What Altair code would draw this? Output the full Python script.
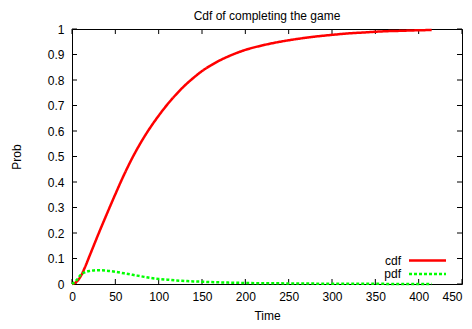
import altair as alt
import pandas as pd

# ---- data ----
time = [0, 5, 10, 15, 20, 25, 30, 40, 50, 60, 70, 80, 90, 100, 110, 120, 130, 140,
        150, 160, 170, 180, 190, 200, 220, 240, 260, 280, 300, 320, 340, 360, 380, 400, 415]
cdf = [0, 0.008, 0.03, 0.066, 0.108, 0.15, 0.192, 0.273, 0.352, 0.428, 0.497, 0.558,
       0.612, 0.66, 0.704, 0.743, 0.778, 0.808, 0.835, 0.857, 0.876, 0.892, 0.906,
       0.918, 0.936, 0.95, 0.961, 0.97, 0.977, 0.983, 0.987, 0.991, 0.993, 0.995, 0.996]
pdf = [0, 0.014, 0.036, 0.046, 0.051, 0.053, 0.054, 0.052, 0.048, 0.042, 0.036, 0.030,
       0.024, 0.020, 0.017, 0.014, 0.012, 0.010, 0.009, 0.0075, 0.0065, 0.0055, 0.0048,
       0.004, 0.003, 0.0025, 0.002, 0.0015, 0.0011, 0.0008, 0.0006, 0.0005, 0.0004,
       0.0003, 0.0002]
series_names = ["cdf", "pdf"]
x_ticks = [0, 50, 100, 150, 200, 250, 300, 350, 400, 450]
y_ticks = [0, 0.1, 0.2, 0.3, 0.4, 0.5, 0.6, 0.7, 0.8, 0.9, 1.0]

n = len(time)
df = pd.DataFrame({
    "Time": time + time,
    "Prob": cdf + pdf,
    "series": [series_names[0]] * n + [series_names[1]] * n,
})
xt = pd.DataFrame({"Time": x_ticks})
yt = pd.DataFrame({"Prob": y_ticks})

W, H = 390, 255
FONT = "Liberation Sans"

xscale = alt.Scale(domain=[0, 450], nice=False, zero=False)
yscale = alt.Scale(domain=[0, 1], nice=False)
cscale = alt.Scale(domain=series_names, range=["#ff0000", "#00ff00"])
dscale = alt.Scale(domain=series_names, range=[[1, 0], [3, 2]])

x_enc = alt.X("Time:Q", scale=xscale,
              axis=alt.Axis(values=x_ticks, title="Time", labelFlush=False, labelOverlap=False,
                            labelAlign=alt.ExprRef(expr="datum.value >= 450 ? 'right' : 'center'")))
y_enc = alt.Y("Prob:Q", scale=yscale,
              axis=alt.Axis(values=y_ticks, title="Prob", format="~g",
                            labelFlush=False, labelOverlap=False))

lines = alt.Chart(df).mark_line(strokeWidth=2.5, interpolate="monotone").encode(
    x=x_enc,
    y=y_enc,
    color=alt.Color("series:N", scale=cscale, legend=None),
    strokeDash=alt.StrokeDash("series:N", scale=dscale, legend=None),
)

tick_style = dict(color="black", strokeWidth=1)
bottom_ticks = alt.Chart(xt).mark_rule(**tick_style).encode(
    x=x_enc, y=alt.value(H), y2=alt.value(H - 5))
top_ticks = alt.Chart(xt).mark_rule(**tick_style).encode(
    x=x_enc, y=alt.value(0), y2=alt.value(5))
left_ticks = alt.Chart(yt).mark_rule(**tick_style).encode(
    y=y_enc, x=alt.value(0), x2=alt.value(5))
right_ticks = alt.Chart(yt).mark_rule(**tick_style).encode(
    y=y_enc, x=alt.value(W), x2=alt.value(W - 5))

# gnuplot-style key (label on the left, line sample on the right), bottom right inside
key_layers = []
for i, name in enumerate(series_names):
    kd = pd.DataFrame({"series": [name]})
    ky = 231.5 + 13.5 * i
    key_layers.append(
        alt.Chart(kd).mark_rule(strokeWidth=2.5).encode(
            x=alt.value(337), x2=alt.value(374), y=alt.value(ky),
            color=alt.Color("series:N", scale=cscale, legend=None),
            strokeDash=alt.StrokeDash("series:N", scale=dscale, legend=None),
        )
    )
    key_layers.append(
        alt.Chart(kd).mark_text(align="right", baseline="middle", font=FONT,
                                fontSize=12, color="black").encode(
            x=alt.value(329), y=alt.value(ky), text="series:N",
        )
    )

chart = alt.layer(bottom_ticks, top_ticks, left_ticks, right_ticks, lines, *key_layers).properties(
    width=W, height=H,
    title=alt.TitleParams("Cdf of completing the game", anchor="middle", offset=0,
                          font=FONT, fontSize=12, fontWeight="normal", color="black"),
    autosize=alt.AutoSizeParams(type="none"),
    padding={"left": 64, "top": 21, "right": 2, "bottom": 37},
).configure_view(
    stroke="black", strokeWidth=1
).configure_axis(
    grid=False, domain=False, ticks=False,
    labelFont=FONT, labelFontSize=12, labelColor="black",
    titleFont=FONT, titleFontSize=12, titleFontWeight="normal", titleColor="black",
).configure_axisX(
    labelPadding=7, titlePadding=8
).configure_axisY(
    labelPadding=8, titlePadding=24
)

chart.save("out.html", embed_options={"renderer": "svg", "actions": False})
